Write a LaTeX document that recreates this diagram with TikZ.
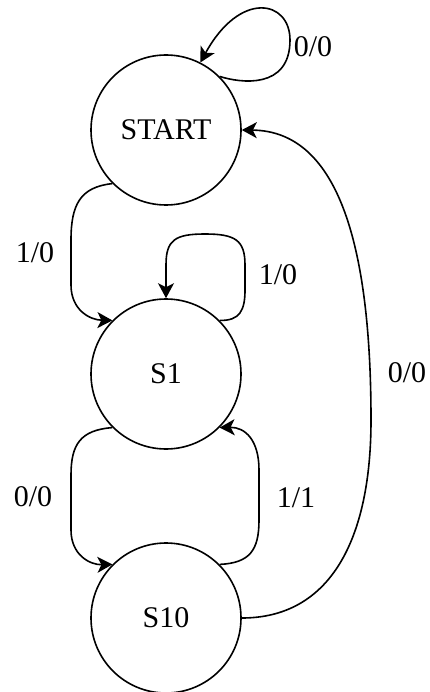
\documentclass[tikz,border=0pt]{standalone}
\usepackage{fontspec}
\setmainfont{Liberation Serif}
\usetikzlibrary{arrows.meta}
\begin{document}
\begin{tikzpicture}[x=1pt,y=-1pt,
  state/.style={draw,circle,line width=1.6pt,minimum size=150pt,inner sep=0pt,font=\fontsize{30}{34}\selectfont},
  trans/.style={line width=1.6pt,-{Stealth[length=15pt,width=16pt,inset=4pt]}},
  lbl/.style={font=\fontsize{30}{34}\selectfont,inner sep=0pt}]
\useasboundingbox (0,0) rectangle (430,692);
\node[state] (START) at (166,130) {START};
\node[state] (S1) at (166,374) {S1};
\node[state] (S10) at (166,618) {S10};
% START self loop
\draw[trans] (START.45) .. controls (240,83) and (290,90) .. (290,40)
  .. controls (290,0) and (240,-10) .. (START.63);
\node[lbl] (l1) at (313,47) {0/0};
% START -> S1
\draw[trans] (START.225) .. controls (80,187) and (71,205) .. (71,240) -- (71,285)
  .. controls (71,310) and (90,320) .. (S1.135);
\node[lbl] (l2) at (35,253) {1/0};
% S1 self loop
\draw[trans] (S1.45) .. controls (240,321) and (245,310) .. (245,290) -- (245,265)
  .. controls (245,240) and (235,234) .. (205,234)
  .. controls (175,234) and (166,240) .. (166,265) -- (S1.90);
\node[lbl] (l3) at (278,275) {1/0};
% S1 -> S10
\draw[trans] (S1.225) .. controls (80,430) and (71,445) .. (71,475) -- (71,530)
  .. controls (71,555) and (90,565) .. (S10.135);
\node[lbl] (l4) at (33,497) {0/0};
% S10 -> S1
\draw[trans] (S10.45) .. controls (250,563) and (259,550) .. (259,520) -- (259,470)
  .. controls (259,440) and (245,427) .. (S1.315);
\node[lbl] (l5) at (296,498) {1/1};
% S10 -> START
\draw[trans] (S10.east) .. controls (330,618) and (371,540) .. (371,420)
  .. controls (371,250) and (340,131) .. (START.east);
\node[lbl] (l6) at (407,373) {0/0};
\end{tikzpicture}
\end{document}
